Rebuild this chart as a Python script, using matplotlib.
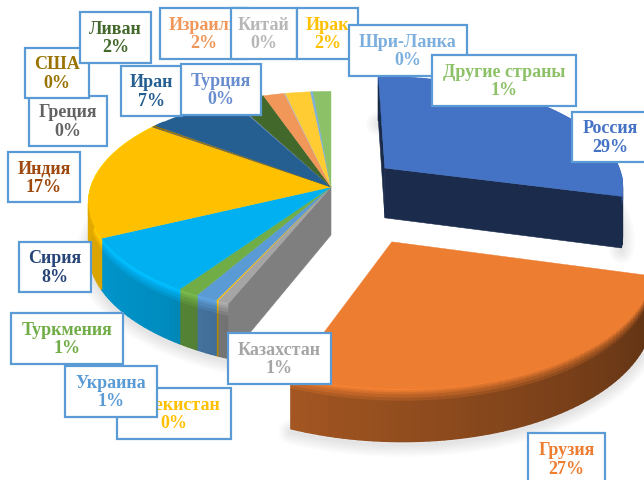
import numpy as np
import matplotlib
matplotlib.use("Agg")
import matplotlib.pyplot as plt
from matplotlib.colors import to_rgb
from matplotlib.patches import Rectangle

plt.rcParams['font.family'] = ['Liberation Serif', 'DejaVu Serif']

# ------------------------------------------------------------
# Data (clockwise from 12 o'clock)
# ------------------------------------------------------------
countries = ["Россия", "Грузия", "Казахстан", "Узбекистан", "Украина", "Туркмения",
             "Сирия", "Индия", "Греция", "США", "Иран", "Турция", "Ливан", "Израиль",
             "Китай", "Ирак", "Шри-Ланка", "Другие страны"]
shares = [29.2, 26.8, 0.7, 0.1, 1.3, 1.25, 8.3, 17.4, 0.1, 0.2, 6.9, 0.1, 2.4, 1.6,
          0.1, 1.9, 0.2, 1.35]

# ------------------------------------------------------------
# Styles
# ------------------------------------------------------------
slice_colors = ["#4472C4", "#ED7D31", "#A5A5A5", "#FFC000", "#5B9BD5", "#70AD47",
                "#00B0F0", "#FFC000", "#636363", "#997300", "#255E91", "#698ED0",
                "#43682B", "#F1975A", "#B7B7B7", "#FFCD33", "#7CAFDD", "#8CC168"]
label_colors = ["#4472C4", "#ED7D31", "#A5A5A5", "#FFC000", "#5B9BD5", "#70AD47",
                "#264478", "#9E480E", "#636363", "#997300", "#255E91", "#698ED0",
                "#43682B", "#F1975A", "#B7B7B7", "#FFC000", "#7CAFDD", "#8CC168"]
box_edge = "#5B9BD5"

# label boxes in pixels: left, top, right, bottom
label_boxes = [(572, 113, 648, 163), (528, 434, 605, 486), (228, 334, 331, 385),
               (117, 389, 231, 440), (65, 367, 157, 418), (11, 314, 123, 365),
               (19, 243, 91, 293), (8, 153, 80, 203), (29, 97, 107, 147),
               (25, 49, 89, 99), (121, 67, 182, 117), (181, 65, 261, 116),
               (80, 13, 151, 64), (160, 9, 248, 60), (231, 9, 297, 60),
               (297, 9, 358, 60), (349, 26, 467, 77), (432, 56, 576, 107)]

# camera: ground circle -> screen
cx, cy = 331, 188
rx, ry = 240, 109
persp = 0.14


def project(u, v, z=0.0, depth=50):
    w = 1 + persp * v
    return cx + rx * u / w, cy + (-ry * v + depth * z) / w


def wall_shade(theta):
    return np.interp(theta, [105, 200, 220, 260, 310], [0.38, 0.68, 0.8, 0.88, 0.9])


def scaled(col, f):
    return tuple(min(1, c * f) for c in to_rgb(col))


def draw_group(ax, idx, angles, off, depth, face_edges=(), face_factor=None, base_z=1):
    """Draw one block of slices sharing an apex: shadow, walls, cut faces, tops."""
    u0, v0 = off
    a0, a1 = angles[idx[0]], angles[idx[-1] + 1]
    arc = np.radians(np.linspace(a0, a1, 200))
    us, vs = u0 + np.sin(arc), v0 + np.cos(arc)
    front = np.degrees(arc) < 310

    # soft shadow under the rim
    sx, sy = project(us[front], vs[front], 1.0, depth)
    for lw in range(2, 20, 2):
        ax.plot(sx, sy + 3, color="black", alpha=0.012, lw=lw, zorder=base_z,
                solid_capstyle="round")

    zs = [0, 0.04, 0.08, 0.12, 0.18, 0.24, 1]
    for i in idx:
        th = np.linspace(angles[i], angles[i + 1], max(2, int((angles[i + 1] - angles[i]) / 1.5) + 2))
        for t0, t1 in zip(th[:-1], th[1:]):
            if t0 > 310:
                continue
            f = wall_shade((t0 + t1) / 2)
            start = 1 + max(0, f - 0.5) * 0.4
            for j in range(len(zs) - 1):
                ff = start + (f - start) * (j / (len(zs) - 2))
                pts = []
                for t, z in [(t0, zs[j]), (t1, zs[j]), (t1, zs[j + 1]), (t0, zs[j + 1])]:
                    r = np.radians(t)
                    pts.append(project(u0 + np.sin(r), v0 + np.cos(r), z, depth))
                pts = np.array(pts)
                col = scaled(slice_colors[i], ff)
                ax.fill(pts[:, 0], pts[:, 1], color=col, lw=1.0, zorder=base_z + 0.1)

    # cut faces
    for t, i in face_edges:
        r = np.radians(t)
        pts = np.array([project(u0, v0, 0, depth),
                        project(u0 + np.sin(r), v0 + np.cos(r), 0, depth),
                        project(u0 + np.sin(r), v0 + np.cos(r), 1, depth),
                        project(u0, v0, 1, depth)])
        f = face_factor if face_factor else wall_shade(t)
        ax.fill(pts[:, 0], pts[:, 1], color=scaled(slice_colors[i], f), lw=0.4,
                zorder=base_z + 0.2)

    # tops
    for i in idx:
        th = np.radians(np.linspace(angles[i], angles[i + 1], 80))
        px, py = project(u0 + np.sin(th), v0 + np.cos(th))
        ax.fill(np.r_[project(u0, v0)[0], px], np.r_[project(u0, v0)[1], py],
                color=slice_colors[i], lw=0.3, zorder=base_z + 0.3)


fig = plt.figure(figsize=(6.44, 4.81), dpi=100)
ax = fig.add_axes([0, 0, 1, 1])
ax.set_xlim(0, 644)
ax.set_ylim(481, 0)
ax.axis("off")

total = sum(shares)
angles = np.r_[0, np.cumsum(shares)] / total * 360

rest = list(range(2, len(shares)))
draw_group(ax, [0], angles, (0.23, 0.178), 51, face_edges=[(0, 0), (angles[1], 0)], base_z=1)
draw_group(ax, rest, angles, (0, 0), 48, face_edges=[(angles[2], 2)], face_factor=0.77, base_z=2)
draw_group(ax, [1], angles, (0.237, -0.47), 42, base_z=3)

# data labels, later ones sit on top of earlier ones
for i, name in enumerate(countries):
    x0, y0, x1, y1 = label_boxes[i]
    ax.add_patch(Rectangle((x0, y0), x1 - x0, y1 - y0, facecolor="white", edgecolor=box_edge,
                           lw=1.6, zorder=10 + 2 * i, clip_on=True))
    ax.text((x0 + x1) / 2, (y0 + y1) / 2, f"{name}\n{shares[i]:.0f}%", color=label_colors[i],
            ha="center", va="center", fontsize=13, fontweight="bold", linespacing=1.12,
            zorder=11 + 2 * i, clip_on=True)

fig.savefig("out.png", dpi=100)
